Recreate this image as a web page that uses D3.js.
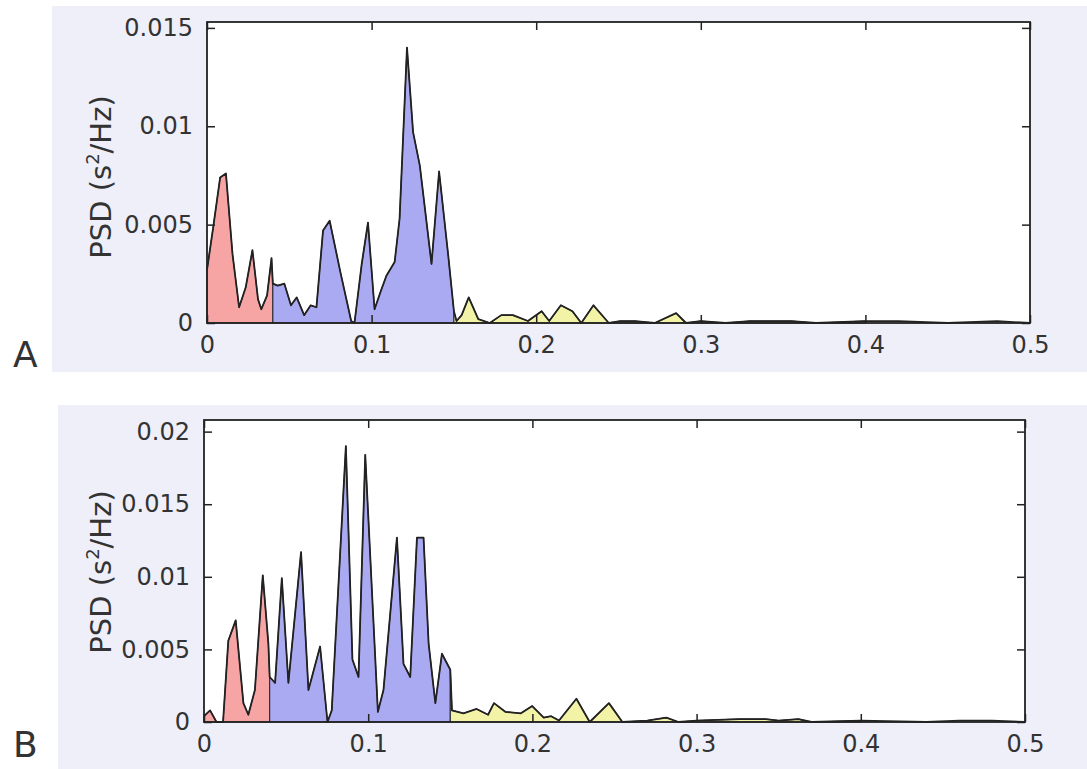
<!DOCTYPE html>
<meta charset="utf-8">
<title>PSD panels</title>
<script src="https://d3js.org/d3.v7.min.js"></script>
<style>
  body { margin: 0; background: #fff; }
  text { font-family: "DejaVu Sans", "Liberation Sans", sans-serif; fill: #333; }
</style>
<body>
<svg class=chart></svg>
<script>

// spectrum A
var freqA = [0.000, 0.004, 0.008, 0.0115, 0.0155, 0.0195, 0.0235, 0.0276, 0.031, 0.033, 0.0365, 0.0392, 0.040,
  0.043, 0.047, 0.051, 0.0545, 0.059, 0.063, 0.0665, 0.0705, 0.0745, 0.081, 0.0876, 0.0896, 0.094, 0.0978,
  0.1018, 0.1055, 0.109, 0.114, 0.117, 0.1215, 0.1252, 0.1293, 0.1364, 0.141, 0.1466, 0.150,
  0.1516, 0.1547, 0.159, 0.1648, 0.1718, 0.1788, 0.1858, 0.195, 0.2033, 0.2079, 0.215, 0.222, 0.2274,
  0.2348, 0.2441, 0.2511, 0.260, 0.272, 0.285, 0.291, 0.300, 0.315, 0.330, 0.355, 0.370, 0.400,
  0.420, 0.450, 0.480, 0.500];
var psdA = [0.0027, 0.0050, 0.0074, 0.0076, 0.0035, 0.0008, 0.0018, 0.0037, 0.0012, 0.0007, 0.0014, 0.0033, 0.0020,
  0.0019, 0.0020, 0.0009, 0.0013, 0.0004, 0.0009, 0.0008, 0.0047, 0.0052, 0.0026, 0.0001, 0.0000, 0.0030, 0.0051,
  0.0007, 0.0016, 0.0024, 0.0031, 0.0053, 0.0140, 0.0097, 0.0080, 0.0030, 0.0077, 0.0034, 0.0006,
  0.0001, 0.0004, 0.0013, 0.0002, 0.0000, 0.0004, 0.0004, 0.0001, 0.0006, 0.0001, 0.0009, 0.0006, 0.0000,
  0.0009, 0.0000, 0.0001, 0.0001, 0.0000, 0.0005, 0.0000, 0.0001, 0.0000, 0.0001, 0.0001, 0.0000, 0.0001,
  0.0001, 0.0000, 0.0001, 0.0000];

// spectrum B
var freqB = [0.000, 0.0037, 0.0076, 0.0116, 0.0148, 0.0193, 0.024, 0.027, 0.031, 0.0358, 0.0392, 0.040,
  0.0433, 0.0474, 0.0514, 0.0591, 0.0636, 0.0707, 0.0752, 0.0778, 0.0864, 0.0904, 0.0941, 0.0982,
  0.1059, 0.1093, 0.1175, 0.1215, 0.1256, 0.1297, 0.1337, 0.1368, 0.1409, 0.1449, 0.150,
  0.151, 0.158, 0.166, 0.173, 0.1766, 0.1835, 0.193, 0.1999, 0.2069, 0.2114, 0.2162, 0.2268, 0.2349,
  0.2466, 0.2548, 0.270, 0.2816, 0.289, 0.300, 0.326, 0.342, 0.350, 0.362, 0.370, 0.400,
  0.440, 0.460, 0.480, 0.500];
var psdB = [0.0004, 0.0008, 0.0000, 0.0000, 0.0056, 0.0070, 0.0013, 0.0005, 0.0022, 0.0101, 0.0054, 0.0031,
  0.0027, 0.0099, 0.0027, 0.0117, 0.0022, 0.0052, 0.0000, 0.0008, 0.0190, 0.0043, 0.0031, 0.0184,
  0.0007, 0.0022, 0.0127, 0.0040, 0.0031, 0.0127, 0.0127, 0.0054, 0.0013, 0.0047, 0.0036,
  0.0008, 0.0006, 0.0009, 0.0005, 0.0013, 0.0007, 0.0006, 0.0011, 0.0003, 0.0004, 0.0001, 0.0016, 0.0000,
  0.0013, 0.0000, 0.0001, 0.0003, 0.0000, 0.0001, 0.0002, 0.0002, 0.0001, 0.0002, 0.0000, 0.0001,
  0.0000, 0.0001, 0.0001, 0.0000];

var bandEdges = [0, 0.04, 0.15, 0.4];
var bandColors = ["#f6a4a4", "#aaaaf2", "#f3f3a8"];
var xTicks = [0, 0.1, 0.2, 0.3, 0.4, 0.5];
var yTicksA = [0, 0.005, 0.01, 0.015];
var yTicksB = [0, 0.005, 0.01, 0.015, 0.02];
var panelLetters = ["A", "B"];

var width = 1087, height = 769;

var panels = [
  { freq: freqA, psd: psdA, yTicks: yTicksA, yMax: 0.0153,
    bg: [52, 6, 1087, 372], left: 207, right: 1030, top: 22, bottom: 323, labelY: 177, letterY: 367 },
  { freq: freqB, psd: psdB, yTicks: yTicksB, yMax: 0.0208,
    bg: [58, 405, 1087, 769], left: 204, right: 1025, top: 420, bottom: 722, labelY: 572, letterY: 757 }
];

var svg = d3.select(".chart")
  .attr("width", width)
  .attr("height", height);

panels.forEach(function(p, pi) {
  var g = svg.append("g");

  g.append("rect")
    .attr("x", p.bg[0]).attr("y", p.bg[1])
    .attr("width", p.bg[2] - p.bg[0]).attr("height", p.bg[3] - p.bg[1])
    .attr("fill", "#efeffa");

  g.append("rect")
    .attr("x", p.left).attr("y", p.top)
    .attr("width", p.right - p.left).attr("height", p.bottom - p.top)
    .attr("fill", "#fff");

  var x = d3.scaleLinear().domain([0, 0.5]).range([p.left, p.right]);
  var y = d3.scaleLinear().domain([0, p.yMax]).range([p.bottom, p.top]);

  var pts = p.freq.map(function(f, i) { return [f, p.psd[i]]; });

  var area = d3.area()
    .x(function(d) { return x(d[0]); })
    .y0(y(0))
    .y1(function(d) { return y(d[1]); });

  for (var b = 0; b < bandColors.length; b++) {
    var lo = bandEdges[b], hi = bandEdges[b + 1];
    var seg = pts.filter(function(d) { return d[0] >= lo - 1e-9 && d[0] <= hi + 1e-9; });
    g.append("path")
      .attr("d", area(seg) )
      .attr("fill", bandColors[b])
      .attr("stroke", "#2a2a33")
      .attr("stroke-width", 1.1)
      .attr("stroke-linejoin", "round");
  }

  var line = d3.line()
    .x(function(d) { return x(d[0]); })
    .y(function(d) { return y(d[1]); });

  g.append("path")
    .attr("d", line(pts))
    .attr("fill", "none")
    .attr("stroke", "#222")
    .attr("stroke-width", 1.8)
    .attr("stroke-linejoin", "round");

  // axes, ticks pointing inward
  var fmt = d3.format("~g");
  var ax = [
    g.append("g").attr("transform", "translate(0," + p.bottom + ")")
      .call(d3.axisBottom(x).tickValues(xTicks).tickFormat(fmt).tickSize(-8).tickPadding(13)),
    g.append("g").attr("transform", "translate(0," + p.top + ")")
      .call(d3.axisTop(x).tickValues(xTicks).tickFormat("").tickSize(-8)),
    g.append("g").attr("transform", "translate(" + p.left + ",0)")
      .call(d3.axisLeft(y).tickValues(p.yTicks).tickFormat(fmt).tickSize(-8).tickPadding(14)),
    g.append("g").attr("transform", "translate(" + p.right + ",0)")
      .call(d3.axisRight(y).tickValues(p.yTicks).tickFormat("").tickSize(-8))
  ];
  ax.forEach(function(a) {
    a.select(".domain").remove();
    a.selectAll(".tick line").attr("stroke", "#222").attr("stroke-width", 1.5);
    a.selectAll(".tick text")
      .style("font-size", "24px")
      .attr("fill", "#333");
  });

  g.append("rect")
    .attr("x", p.left).attr("y", p.top)
    .attr("width", p.right - p.left).attr("height", p.bottom - p.top)
    .attr("fill", "none")
    .attr("stroke", "#222")
    .attr("stroke-width", 1.8);

  var lab = g.append("text")
    .attr("transform", "translate(111," + p.labelY + ") rotate(-90)")
    .attr("text-anchor", "middle")
    .style("font-size", "29px");
  lab.append("tspan").text("PSD (s");
  lab.append("tspan").text("2").attr("dy", -12).style("font-size", "18px");
  lab.append("tspan").text("/Hz)").attr("dy", 12);

  g.append("text")
    .attr("x", 13)
    .attr("y", p.letterY)
    .style("font-size", "36px")
    .attr("fill", "#111")
    .text(panelLetters[pi]);
});

</script>
</body>
